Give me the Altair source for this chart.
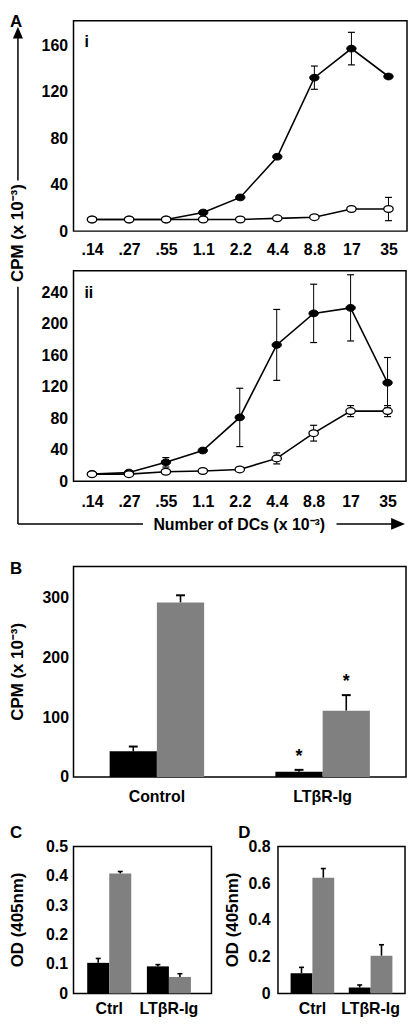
import altair as alt
import pandas as pd

FONT = "Liberation Sans"

# ---------------- Panel A data ----------------
dc_labels = [".14", ".27", ".55", "1.1", "2.2", "4.4", "8.8", "17", "35"]
ai_filled = [10, 10, 10, 16, 29, 64, 132, 157, 133]
ai_filled_err = [0, 0, 0, 0, 0, 0, 10, 14, 0]
ai_open = [10, 10, 10, 10, 10, 11, 12, 19, 19]
ai_open_err = [0, 0, 0, 0, 0, 0, 0, 0, 10]
ai_yticks = [0, 40, 80, 120, 160]

aii_filled = [9, 11, 24, 39, 81, 173, 213, 220, 125]
aii_filled_err = [0, 0, 6, 0, 37, 45, 37, 42, 32]
aii_open = [9, 9, 12, 13, 15, 29, 61, 89, 89]
aii_open_err = [0, 0, 0, 0, 0, 7, 10, 7, 7]
aii_yticks = [0, 40, 80, 120, 160, 200, 240]

# ---------------- Panel B data ----------------
b_groups = ["Control", "LTβR-Ig"]
b_black = [43, 9]
b_black_err = [8, 3]
b_black_sig = [False, True]
b_gray = [292, 111]
b_gray_err = [12, 26]
b_gray_sig = [False, True]
b_yticks = [0, 100, 200, 300]

# ---------------- Panels C / D data ----------------
cd_groups = ["Ctrl", "LTβR-Ig"]
c_black = [0.104, 0.092]
c_black_err = [0.015, 0.006]
c_gray = [0.408, 0.056]
c_gray_err = [0.007, 0.011]
c_yticks = [0, 0.1, 0.2, 0.3, 0.4, 0.5]

d_black = [0.11, 0.032]
d_black_err = [0.032, 0.014]
d_gray = [0.63, 0.205]
d_gray_err = [0.05, 0.06]
d_yticks = [0, 0.2, 0.4, 0.6, 0.8]

ELLIPSE = "M-1,0A1,0.72,0,1,0,1,0A1,0.72,0,1,0,-1,0Z"
TRI_UP = "M0,-1L0.85,1L-0.85,1Z"
TRI_RIGHT = "M1,0L-1,-0.85L-1,0.85Z"
ONE = pd.DataFrame({"a": [0]})

W_MAIN = 336   # panels A(i), A(ii), B plot width
H_LINE = 212   # line panels / panel B plot height
W_C, W_D, H_CD = 139, 128, 148


def label(text, x, y, size=16, angle=0, align="left", baseline="top"):
    return alt.Chart(ONE).mark_text(
        text=text, fontSize=size, fontWeight="bold", font=FONT, align=align,
        baseline=baseline, angle=angle, color="black"
    ).encode(x=alt.value(x), y=alt.value(y))


def vseg(x, y, y2, width=1.5):
    return alt.Chart(ONE).mark_rule(color="black", strokeWidth=width).encode(
        x=alt.value(x), y=alt.value(y), y2=alt.value(y2))


def hseg(x, x2, y, width=1.5):
    return alt.Chart(ONE).mark_rule(color="black", strokeWidth=width).encode(
        x=alt.value(x), x2=alt.value(x2), y=alt.value(y))


def head(x, y, shape, size):
    return alt.Chart(ONE).mark_point(
        shape=shape, size=size, filled=True, color="black", opacity=1, strokeWidth=0
    ).encode(x=alt.value(x), y=alt.value(y))


def spacer(h):
    return alt.Chart(ONE).mark_point(opacity=0, size=1).encode(
        x=alt.value(0), y=alt.value(0)
    ).properties(width=10, height=h,
                 view=alt.ViewBackground(stroke="transparent", strokeWidth=0))


def line_panel(filled, ferr, opn, oerr, ymax, yticks, xpad):
    rows = []
    for i, lab in enumerate(dc_labels):
        rows.append(dict(dc=lab, series="filled", v=filled[i], e=ferr[i]))
        rows.append(dict(dc=lab, series="open", v=opn[i], e=oerr[i]))
    df = pd.DataFrame(rows)
    base = alt.Chart(df).transform_calculate(
        lo="datum.v - datum.e", hi="datum.v + datum.e")
    xaxis = alt.Axis(labelAngle=0, labelPadding=xpad, title=None, labelOverlap=False)
    x = alt.X("dc:N", sort=dc_labels, scale=alt.Scale(type="point", padding=0.5), axis=xaxis)
    yscale = alt.Scale(domain=[0, ymax], nice=False, zero=True)
    yaxis = alt.Axis(values=yticks, format="d", title=None, labelPadding=6)

    def Y(f):
        return alt.Y(f, scale=yscale, axis=yaxis)

    lines = base.mark_line(color="black", strokeWidth=1.6).encode(
        x=x, y=Y("v:Q"), detail="series:N")
    errs = base.transform_filter("datum.e > 0")
    ebar = errs.mark_rule(color="black", strokeWidth=1).encode(x=x, y=Y("lo:Q"), y2="hi:Q")
    cap_hi = errs.mark_tick(color="black", orient="horizontal", size=7, thickness=1.2,
                            opacity=1).encode(x=x, y=Y("hi:Q"))
    cap_lo = errs.mark_tick(color="black", orient="horizontal", size=7, thickness=1.2,
                            opacity=1).encode(x=x, y=Y("lo:Q"))
    pf = base.transform_filter("datum.series == 'filled'").mark_point(
        shape=ELLIPSE, size=90, filled=True, fill="black", stroke="black",
        strokeWidth=1, opacity=1).encode(x=x, y=Y("v:Q"))
    po = base.transform_filter("datum.series == 'open'").mark_point(
        shape=ELLIPSE, size=90, filled=True, fill="white", stroke="black",
        strokeWidth=1.3, opacity=1).encode(x=x, y=Y("v:Q"))
    return [lines, ebar, cap_hi, cap_lo, pf, po]


def bar_panel(groups, black, berr, gray, gerr, ymax, yticks, pin, pout, align,
              xpad, ypad, fmt_expr, bsig=None, gsig=None, cap=8, capw=2.0):
    rows = []
    for i, g in enumerate(groups):
        rows.append(dict(cat=g, grp="a", v=black[i], e=berr[i],
                         sig=bool(bsig[i]) if bsig else False))
        rows.append(dict(cat=g, grp="b", v=gray[i], e=gerr[i],
                         sig=bool(gsig[i]) if gsig else False))
    df = pd.DataFrame(rows)
    base = alt.Chart(df).transform_calculate(hi="datum.v + datum.e")
    x = alt.X("cat:N", sort=groups,
              scale=alt.Scale(paddingInner=pin, paddingOuter=pout, align=align),
              axis=alt.Axis(labelAngle=0, labelPadding=xpad, title=None, labelOverlap=False))
    xo = alt.XOffset("grp:N", scale=alt.Scale(paddingInner=0, paddingOuter=0))
    yscale = alt.Scale(domain=[0, ymax], nice=False, zero=True)
    yaxis = alt.Axis(values=yticks, title=None, labelPadding=ypad, labelExpr=fmt_expr)

    def Y(f):
        return alt.Y(f, scale=yscale, axis=yaxis)

    color = alt.Color("grp:N", scale=alt.Scale(domain=["a", "b"], range=["#000000", "#808080"]),
                      legend=None)
    rule = base.mark_rule(color="black", strokeWidth=1.6).encode(
        x=x, xOffset=xo, y=Y("v:Q"), y2="hi:Q")
    capm = base.mark_tick(color="black", orient="horizontal", size=cap, thickness=capw,
                          opacity=1).encode(x=x, xOffset=xo, y=Y("hi:Q"))
    bars = base.mark_bar().encode(x=x, xOffset=xo, y=Y("v:Q"), color=color)
    layers = [rule, capm, bars]
    return layers, base, x, xo, Y


# ---------- Panel A(i) ----------
ai_layers = line_panel(ai_filled, ai_filled_err, ai_open, ai_open_err, 181, ai_yticks, 11)
ai_ann = [
    label("A", -64, -7, size=17),
    label("i", 11, 13, size=16),
    head(-56, 12, TRI_UP, 144),
    vseg(-56, 14, 161),
    label("CPM (x 10⁻³)", -56, 214, size=17, angle=270, align="center", baseline="middle"),
    vseg(-56, 268, 507),
]
panel_ai = alt.layer(*ai_layers, *ai_ann).properties(width=W_MAIN, height=H_LINE)

# ---------- Panel A(ii) ----------
aii_layers = line_panel(aii_filled, aii_filled_err, aii_open, aii_open_err, 267,
                        aii_yticks, 12)
aii_ann = [
    label("ii", 11, 14, size=16),
    hseg(-56, 70, 255),
    label("Number of DCs (x 10⁻³)", 167, 256, size=16, align="center", baseline="middle"),
    hseg(265, 322, 255),
    head(327, 255, TRI_RIGHT, 196),
]
panel_aii = alt.layer(*aii_layers, *aii_ann).properties(width=W_MAIN - 1, height=H_LINE)

# ---------- Panel B ----------
b_layers, b_base, bx, bxo, bY = bar_panel(
    b_groups, b_black, b_black_err, b_gray, b_gray_err, 352, b_yticks,
    0.43, 0.218, 0.5, 12, 5, "format(datum.value, 'd')", b_black_sig, b_gray_sig,
    cap=9, capw=2)
stars = b_base.transform_filter("datum.sig").transform_calculate(
    sy="datum.v + datum.e + 22").mark_text(
    text="*", fontSize=18, fontWeight="bold", font=FONT, baseline="middle",
    align="center", color="black").encode(x=bx, xOffset=bxo, y=bY("sy:Q"))
b_ann = [
    label("B", -64, -6, size=17),
    label("CPM (x 10⁻³)", -56, H_LINE / 2, size=17, angle=270, align="center",
          baseline="middle"),
]
panel_b = alt.layer(*b_layers, stars, *b_ann).properties(width=W_MAIN - 1, height=H_LINE)

# ---------- Panels C, D ----------
fmt1 = "datum.value == 0 ? '0' : format(datum.value, '.1f')"
c_layers, _, _, _, _ = bar_panel(
    cd_groups, c_black, c_black_err, c_gray, c_gray_err, 0.5, c_yticks,
    0.262, 0.287, 0.4, 7, 6, fmt1, cap=5, capw=1.6)
c_ann = [
    label("C", -64, -22, size=17),
    label("OD (405nm)", -56, H_CD / 2, size=17, angle=270, align="center", baseline="middle"),
]
panel_c = alt.layer(*c_layers, *c_ann).properties(width=W_C, height=H_CD)

d_layers, _, _, _, _ = bar_panel(
    cd_groups, d_black, d_black_err, d_gray, d_gray_err, 0.8, d_yticks,
    0.25, 0.217, 0.5, 7, 8, fmt1, cap=5, capw=1.6)
d_ann = [
    label("D", -40, -22, size=17),
    label("OD (405nm)", -45, H_CD / 2, size=17, angle=270, align="center", baseline="middle"),
]
panel_d = alt.layer(*d_layers, *d_ann).properties(width=W_D, height=H_CD)

row_cd = alt.hconcat(panel_c, panel_d, spacing=67, bounds="flush").resolve_scale(
    xOffset="independent", color="independent")

chart = alt.vconcat(
    panel_ai, spacer(40), panel_aii, spacer(86), panel_b, spacer(70), row_cd,
    spacing=0, bounds="flush"
).resolve_scale(
    xOffset="independent", color="independent"
).properties(
    padding=0
).configure(font=FONT).configure_view(
    stroke="black", strokeWidth=1.5
).configure_axis(
    domain=False, ticks=False, grid=False, labelFont=FONT, labelFontSize=16,
    labelFontWeight="bold", labelColor="black"
)

chart.save("out.html", embed_options={"renderer": "svg", "actions": False})
